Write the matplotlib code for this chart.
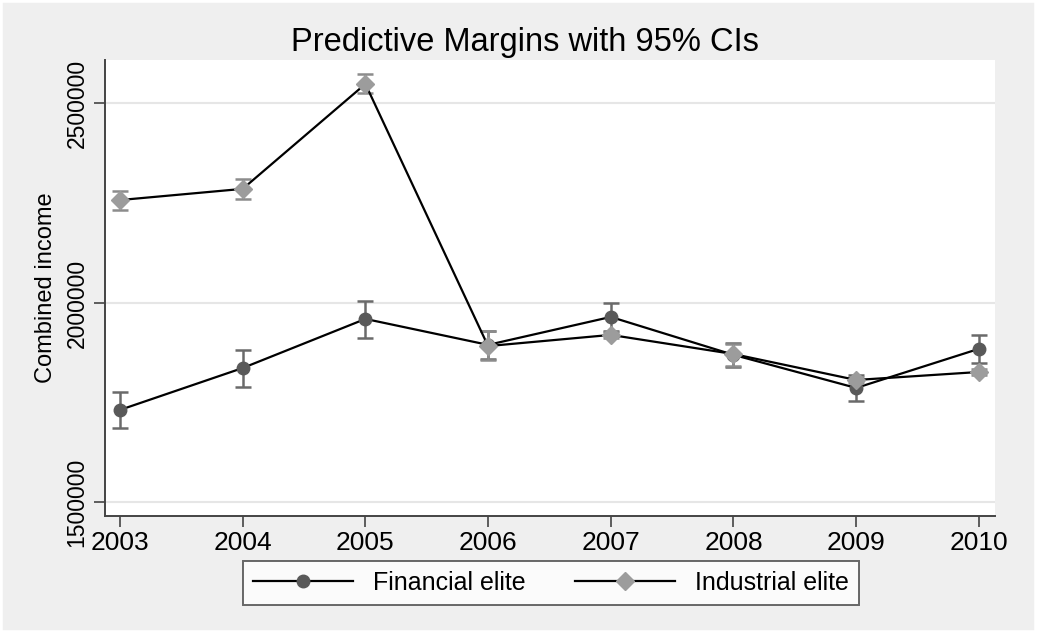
import matplotlib.pyplot as plt
from matplotlib.patches import Rectangle

plt.rcParams["font.family"] = ["Liberation Sans", "DejaVu Sans"]

years = [2003, 2004, 2005, 2006, 2007, 2008, 2009, 2010]

# Financial elite: margins and 95% CI bounds
fin_mean = [1732000, 1837000, 1960000, 1895000, 1965000, 1870000, 1787000, 1885000]
fin_low = [1687000, 1790000, 1912000, 1860000, 1930000, 1840000, 1754000, 1850000]
fin_high = [1777000, 1882000, 2005000, 1930000, 2000000, 1900000, 1820000, 1920000]

# Industrial elite
ind_mean = [2258000, 2286000, 2549000, 1892000, 1920000, 1872000, 1807000, 1827000]
ind_low = [2233000, 2261000, 2526000, 1857000, 1912000, 1843000, 1799000, 1819000]
ind_high = [2281000, 2311000, 2574000, 1930000, 1928000, 1897000, 1815000, 1835000]

y_ticks = [1500000, 2000000, 2500000]

bg = "#efefef"
fig = plt.figure(figsize=(10.37, 6.33), dpi=100, facecolor=bg)
ax = fig.add_axes([0.1013, 0.1848, 0.858, 0.7204])
ax.set_facecolor("white")


def draw_series(mean, low, high, marker, mcolor, ecolor, msize, label, z):
    err = [[m - l for m, l in zip(mean, low)], [h - m for m, h in zip(mean, high)]]
    ax.errorbar(years, mean, yerr=err, fmt="none", ecolor=ecolor, elinewidth=1.8,
                capsize=5.5, capthick=1.8, zorder=z)
    ax.plot(years, mean, color="black", lw=1.6, zorder=z + 1)
    ax.plot(years, mean, linestyle="none", marker=marker, markersize=msize,
            markerfacecolor=mcolor, markeredgecolor=mcolor, zorder=z + 2)
    return ax.plot([], [], color="black", lw=1.6, marker=marker, markersize=msize,
                   markerfacecolor=mcolor, markeredgecolor=mcolor, label=label)[0]


h1 = draw_series(fin_mean, fin_low, fin_high, "o", "#595959", "#6a6a6a", 9, "Financial elite", 3)
h2 = draw_series(ind_mean, ind_low, ind_high, "D", "#9c9c9c", "#8c8c8c", 9.5, "Industrial elite", 6)

ax.set_xlim(2002.878, 2010.13)
ax.set_ylim(1466000, 2609000)
ax.set_xticks(years)
ax.set_yticks(y_ticks)
ax.set_yticklabels([str(v) for v in y_ticks], rotation=90, va="center")
ax.tick_params(axis="y", labelsize=16.5, length=8, width=1.2, color="#444444", pad=4)
ax.tick_params(axis="x", labelsize=19, length=8, width=1.2, color="#444444", pad=3)
ax.grid(axis="y", color="#e6e6e6", lw=1.5)
ax.set_axisbelow(True)
for s in ["top", "right"]:
    ax.spines[s].set_visible(False)
for s in ["left", "bottom"]:
    ax.spines[s].set_color("#444444")
    ax.spines[s].set_linewidth(1.4)
ax.set_ylabel("Combined income", fontsize=17, labelpad=6)

fig.text(525 / 1037, 1 - 42 / 633, "Predictive Margins with 95% CIs", fontsize=23.5,
         ha="center", va="center")

leg = fig.legend(handles=[h1, h2], loc="center", bbox_to_anchor=(551 / 1037, 1 - 583 / 633),
                 ncol=2, fontsize=18, frameon=True, fancybox=False, handlelength=4.0,
                 columnspacing=2.0, borderpad=0.4, handletextpad=0.8)
leg.get_frame().set_edgecolor("#444444")
leg.get_frame().set_linewidth(1.4)
leg.get_frame().set_facecolor("white")

# thin white frame around the whole picture
fig.patches.append(Rectangle((0, 0), 1, 1, transform=fig.transFigure, fill=False,
                             edgecolor="white", lw=4, zorder=10))

fig.savefig("out.png", dpi=100, facecolor=bg)
